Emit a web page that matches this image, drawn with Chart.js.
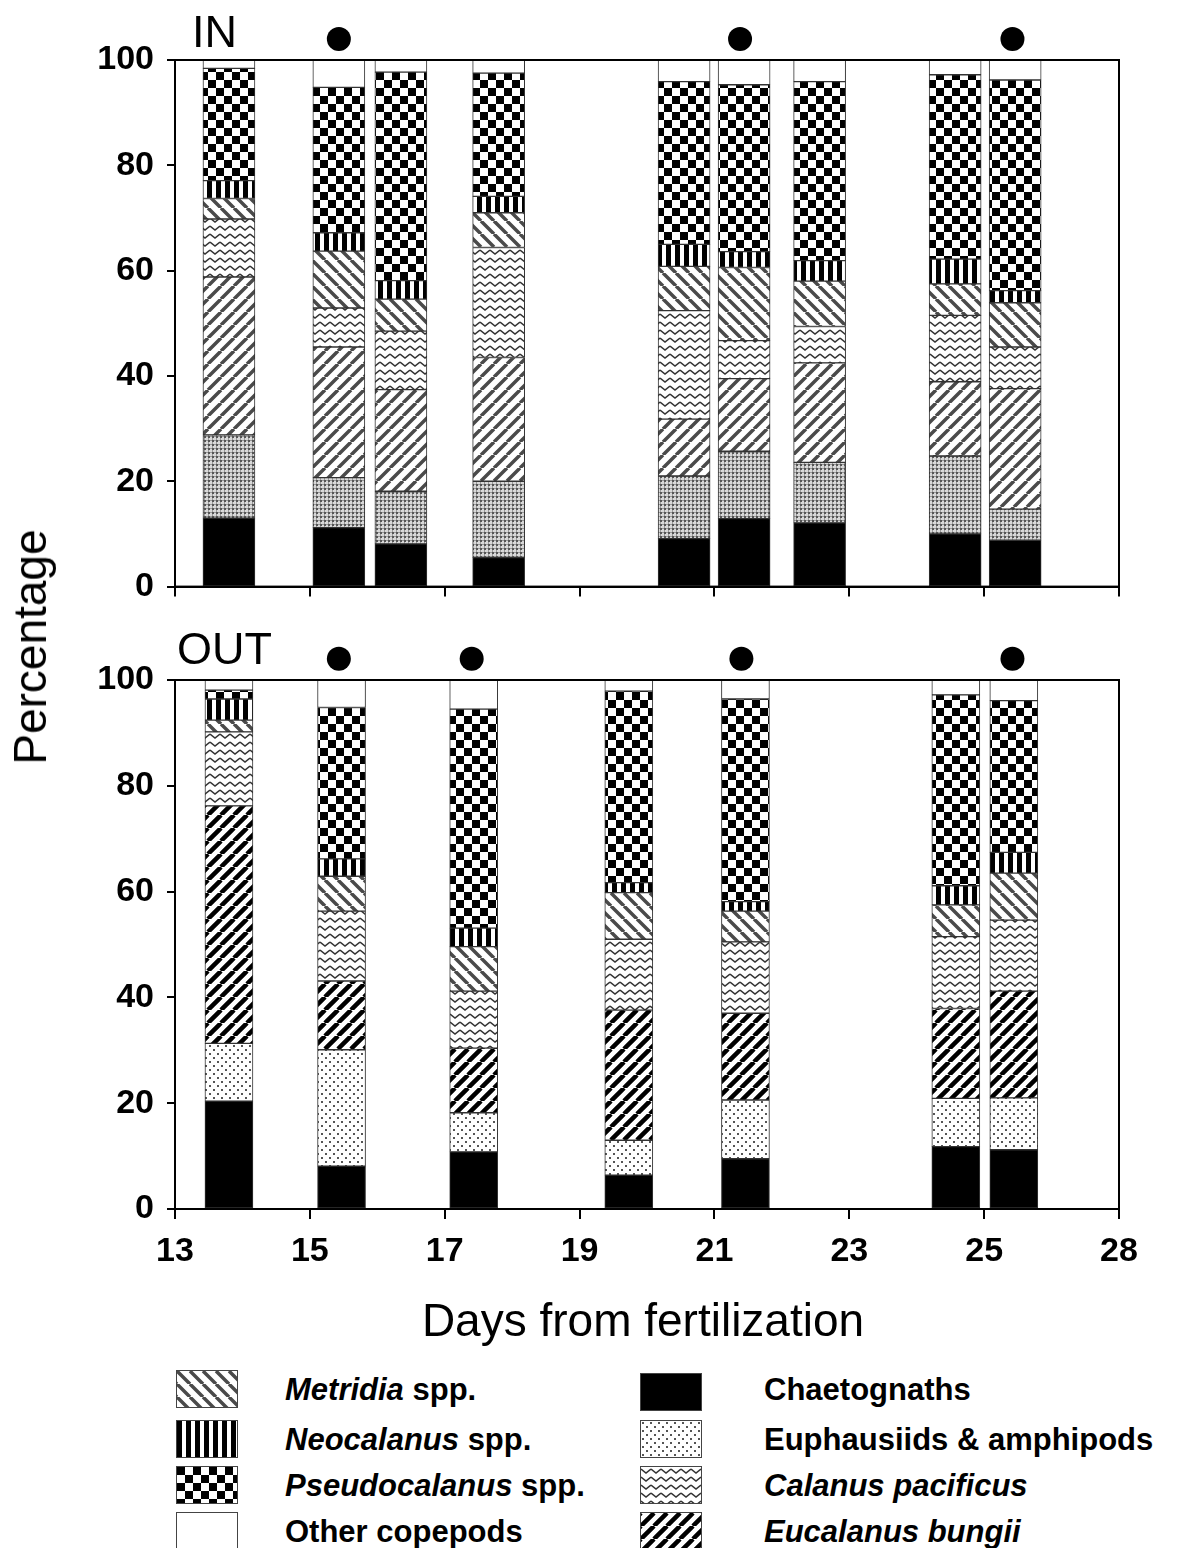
<!DOCTYPE html>
<html><head><meta charset="utf-8">
<script src="https://cdn.jsdelivr.net/npm/chart.js@4.4.1/dist/chart.umd.min.js"></script>
<style>
body{margin:0;background:#fff;width:1181px;height:1548px;position:relative;overflow:hidden;font-family:'Liberation Sans',Arial,sans-serif;color:#000}
canvas{position:absolute;left:0}
#c1{top:0}
#c2{top:620px}
.t{position:absolute;white-space:nowrap;line-height:1}
.lg{position:absolute;font-weight:bold;font-size:31px;white-space:nowrap;line-height:1}
.sw{position:absolute;border:1px solid #444;box-sizing:border-box}
</style></head>
<body>
<canvas id="c1" width="1181" height="620"></canvas>
<canvas id="c2" width="1181" height="680"></canvas>
<div class="t" style="left:192px;top:9px;font-size:45px">IN</div>
<div class="t" style="left:177px;top:626px;font-size:45px">OUT</div>
<div class="t" style="left:643px;top:1320px;font-size:46px;transform:translate(-50%,-50%)">Days from fertilization</div>
<div class="t" style="left:30px;top:647px;font-size:46px;transform:translate(-50%,-50%) rotate(-90deg)">Percentage</div>
<div id="legend"></div>
<script>
// ---------- DATA ----------
const tickLabels = ['13','15','17','19','21','23','25','28'];
const seriesNames = ['Chaetognaths','Euphausiids & amphipods','Eucalanus bungii','Calanus pacificus','Metridia spp.','Neocalanus spp.','Pseudocalanus spp.','Other copepods'];

// IN panel
const inDays      = [13.8, 15.43, 16.35, 17.8, 20.55, 21.44, 22.56, 24.57, 25.46];
const inChaet     = [13.0, 11.2, 8.1, 5.5, 9.1, 12.9, 12.1, 10.0, 8.8];
const inEuph      = [15.8, 9.5, 10.0, 14.5, 11.9, 12.8, 11.5, 14.8, 5.9];
const inEucal     = [30.0, 24.8, 19.3, 23.5, 10.8, 13.8, 18.9, 14.1, 22.9];
const inCalanus   = [11.0, 7.4, 11.1, 20.9, 20.6, 7.2, 6.9, 12.6, 7.9];
const inMetridia  = [3.9, 10.8, 6.1, 6.6, 8.4, 13.9, 8.6, 6.0, 8.4];
const inNeo       = [3.4, 3.5, 3.5, 3.1, 4.2, 3.0, 3.9, 4.7, 2.3];
const inPseudo    = [21.3, 27.6, 39.6, 23.4, 30.9, 31.7, 34.0, 35.0, 40.0];
const inOther     = [1.6, 5.2, 2.3, 2.5, 4.1, 4.7, 4.1, 2.8, 3.8];
const inDotDays   = [15.43, 21.38, 25.42];

// OUT panel
const outDays     = [13.8, 15.47, 17.43, 19.73, 21.46, 24.58, 25.44];
const outChaet    = [20.4, 8.1, 10.8, 6.4, 9.5, 11.8, 11.2];
const outEuph     = [10.9, 22.0, 7.4, 6.6, 11.1, 9.1, 9.8];
const outEucal    = [44.9, 13.0, 12.2, 24.6, 16.4, 17.0, 20.2];
const outCalanus  = [14.0, 13.2, 10.8, 13.4, 13.5, 13.6, 13.4];
const outMetridia = [2.2, 6.6, 8.4, 8.8, 5.8, 6.0, 8.9];
const outNeo      = [4.0, 3.3, 3.5, 1.9, 1.8, 3.6, 3.9];
const outPseudo   = [1.7, 28.6, 41.4, 36.2, 38.3, 36.1, 28.7];
const outOther    = [1.9, 5.2, 5.5, 2.1, 3.6, 2.8, 3.9];
const outDotDays  = [15.43, 17.4, 21.4, 25.42];
const dotLevel = 104;

// ---------- PATTERNS ----------
function tile(w,h,draw){const c=document.createElement('canvas');c.width=w;c.height=h;const g=c.getContext('2d');g.fillStyle='#fff';g.fillRect(0,0,w,h);draw(g,w,h);return c;}
function diag(w,color,lw,dir){return tile(w,w,(g)=>{g.strokeStyle=color;g.lineWidth=lw;g.beginPath();
  for(let k=-1;k<=1;k++){ if(dir>0){g.moveTo(k*w,w);g.lineTo(k*w+w,0);} else {g.moveTo(k*w,0);g.lineTo(k*w+w,w);} }
  g.stroke();});}
const tiles = {
  black: tile(4,4,(g)=>{g.fillStyle='#000';g.fillRect(0,0,4,4);}),
  white: tile(4,4,()=>{}),
  dotsDense: tile(4,4,(g)=>{g.fillStyle='#d8d8d8';g.fillRect(0,0,4,4);g.fillStyle='#555';g.fillRect(0,0,2,2);g.fillStyle='#999';g.fillRect(2,0,2,1);g.fillRect(0,2,1,2);}),
  dotsSparse: tile(8,8,(g)=>{g.fillStyle='#555';g.fillRect(1,1,2,2);g.fillRect(5,5,2,2);}),
  eucIn: diag(13,'#4a4a4a',3.5,1),
  eucOut: diag(13,'#000',4.5,1),
  zig: tile(10,8,(g)=>{g.strokeStyle='#333';g.lineWidth=1.6;g.beginPath();g.moveTo(0,2);g.lineTo(5,6);g.lineTo(10,2);g.stroke();}),
  met: diag(13,'#4a4a4a',3.5,-1),
  vstripe: tile(9,4,(g)=>{g.fillStyle='#000';g.fillRect(0,0,5,4);}),
  checker: tile(16,16,(g)=>{g.fillStyle='#000';g.fillRect(0,0,8,8);g.fillRect(8,8,8,8);})
};
function pats(ctx, set){return set.map(k=>ctx.createPattern(tiles[k],'repeat'));}
const inSet  = ['black','dotsDense','eucIn','zig','met','vstripe','checker','white'];
const outSet = ['black','dotsSparse','eucOut','zig','met','vstripe','checker','white'];

const boxPlugin = {id:'box', afterDatasetsDraw(chart){const {ctx,chartArea:a}=chart;ctx.save();ctx.strokeStyle='#000';ctx.lineWidth=2;ctx.strokeRect(a.left,a.top,a.right-a.left,a.bottom-a.top);ctx.restore();}};
// significance dots above the plot, positioned through the chart's own scales
const dotPlugin = {id:'sigDots', afterDraw(chart, args, opts){
  const {ctx, scales} = chart; ctx.save(); ctx.fillStyle='#000';
  (opts.days||[]).forEach(d=>{const x=scales.x.getPixelForValue(d), y=scales.y.getPixelForValue(opts.level);
    ctx.beginPath(); ctx.arc(x,y,12,0,Math.PI*2); ctx.fill();});
  ctx.restore();}};

function makeChart(id, days, series, set, dotDays, barW, showX, xH){
  const cv=document.getElementById(id); const ctx=cv.getContext('2d');
  const p=pats(ctx,set);
  const datasets=series.map((vals,i)=>({type:'bar',label:seriesNames[i],data:days.map((d,j)=>({x:d,y:vals[j]})),
     backgroundColor:p[i],borderColor:'#333',borderWidth:1,barThickness:barW,borderSkipped:false,stack:'s'}));
  return new Chart(ctx,{
    type:'bar',
    data:{datasets},
    options:{responsive:false,animation:false,events:[],
      layout:{padding:{left:0,right:62,top:60,bottom:0}},
      plugins:{legend:{display:false},tooltip:{enabled:false},sigDots:{days:dotDays,level:dotLevel}},
      scales:{
        x:{type:'linear',min:13,max:27,stacked:true,offset:false,
           afterFit:(s)=>{s.height=xH;},
           grid:{display:true,drawOnChartArea:false,drawTicks:true,tickLength:10,color:'#000',lineWidth:2,offset:false},
           border:{display:true,color:'#000',width:2},
           ticks:{display:showX,stepSize:2,autoSkip:false,maxRotation:0,padding:12,color:'#000',
             font:{family:"'Liberation Sans',Arial,sans-serif",size:34,weight:'bold'},
             callback:(v,i)=>tickLabels[i]}},
        y:{min:0,max:100,stacked:true,
           afterFit:(s)=>{s.width=175;},
           grid:{display:true,drawOnChartArea:false,drawTicks:true,tickLength:8,color:'#000',lineWidth:2},
           border:{display:true,color:'#000',width:2},
           ticks:{stepSize:20,padding:13,color:'#000',
             font:{family:"'Liberation Sans',Arial,sans-serif",size:34,weight:'bold'}}}
      }},
    plugins:[boxPlugin, dotPlugin]
  });
}
makeChart('c1', inDays, [inChaet,inEuph,inEucal,inCalanus,inMetridia,inNeo,inPseudo,inOther], inSet, inDotDays, 52, false, 31);
makeChart('c2', outDays, [outChaet,outEuph,outEucal,outCalanus,outMetridia,outNeo,outPseudo,outOther], outSet, outDotDays, 48, true, 91);

// ---------- LEGEND ----------
const legendRows = [
  {key:'met', name:'<i>Metridia</i> spp.', col:0, row:0},
  {key:'vstripe', name:'<i>Neocalanus</i> spp.', col:0, row:1},
  {key:'checker', name:'<i>Pseudocalanus</i> spp.', col:0, row:2},
  {key:'white', name:'Other copepods', col:0, row:3},
  {key:'black', name:'Chaetognaths', col:1, row:0},
  {key:'dotsSparse', name:'Euphausiids &amp; amphipods', col:1, row:1},
  {key:'zig', name:'<i>Calanus pacificus</i>', col:1, row:2},
  {key:'eucOut', name:'<i>Eucalanus bungii</i>', col:1, row:3}
];
const swX=[176,640], txX=[285,764], rowY=[1370,1420,1466,1512];
const lg=document.getElementById('legend');
legendRows.forEach(r=>{
  const c=document.createElement('canvas'); c.width=60; c.height=36; c.className='sw';
  c.style.left=swX[r.col]+'px'; c.style.top=(rowY[r.row]+(r.col===1&&r.row===0?3:0))+'px';
  const g=c.getContext('2d'); g.fillStyle=g.createPattern(tiles[r.key],'repeat'); g.fillRect(0,0,60,36);
  lg.appendChild(c);
  const d=document.createElement('div'); d.className='lg'; d.innerHTML=r.name;
  d.style.left=txX[r.col]+'px'; d.style.top=(rowY[r.row]+4)+'px';
  lg.appendChild(d);
});
</script>
</body></html>
